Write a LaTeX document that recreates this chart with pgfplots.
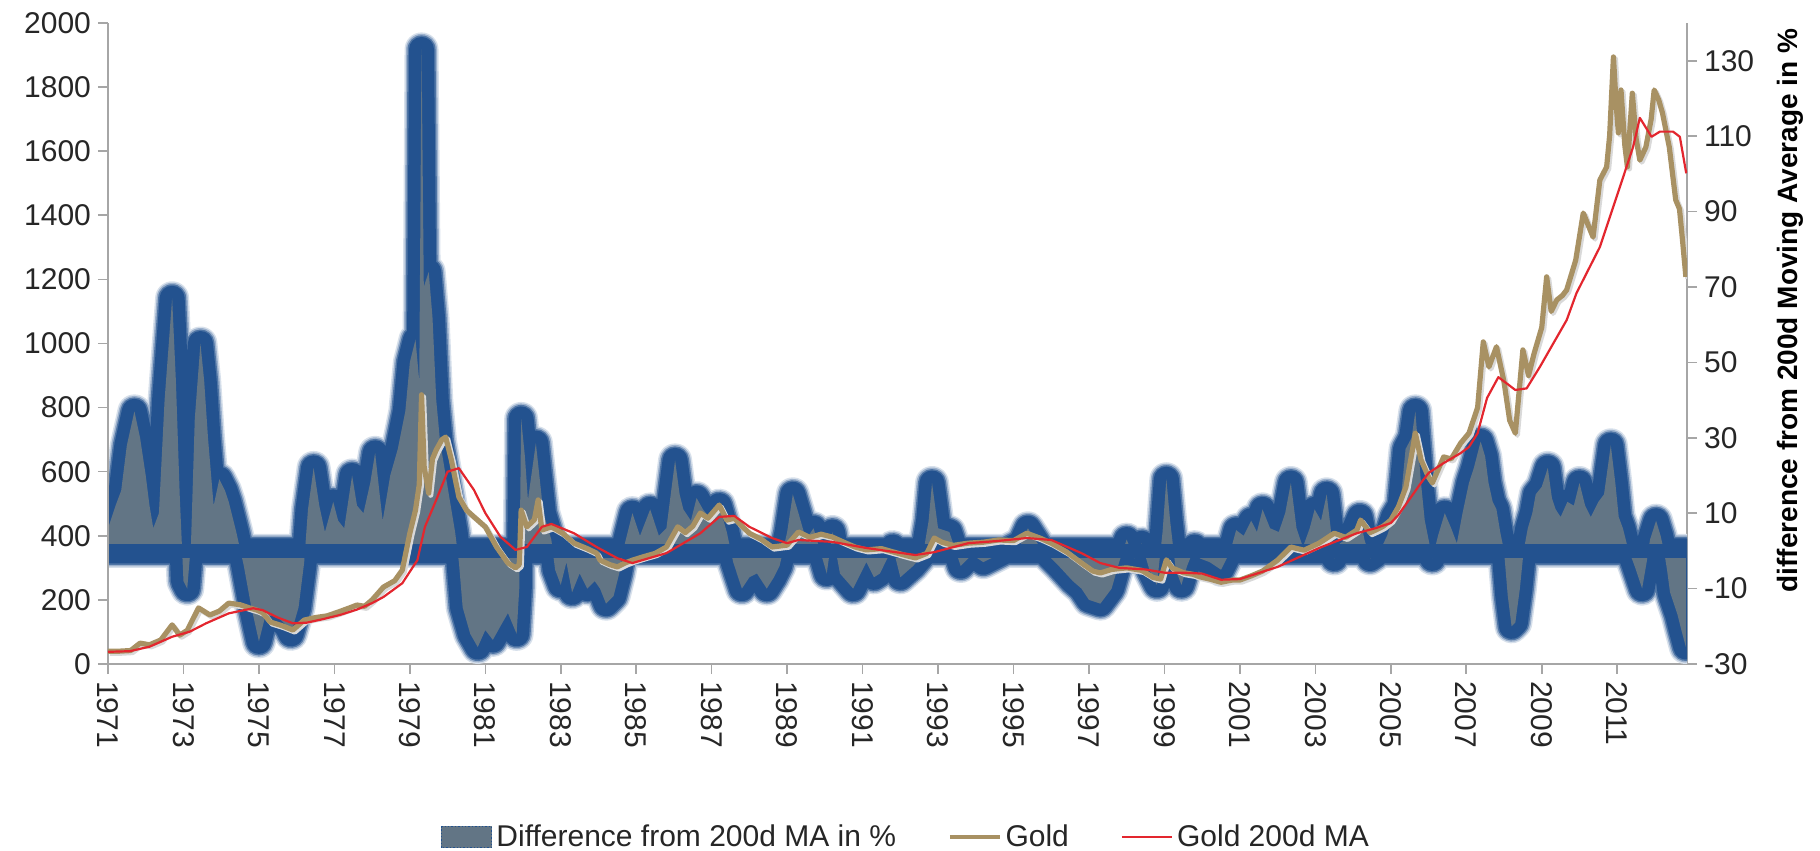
\documentclass[border=0pt]{standalone}
\usepackage{pgfplots}
\pgfplotsset{compat=1.18}
\usepackage{fontspec}
\setmainfont{Liberation Sans}
\definecolor{glowblue}{HTML}{23528F}
\definecolor{fillgray}{HTML}{627585}
\definecolor{goldc}{HTML}{A89163}
\definecolor{mared}{HTML}{E3262E}
\definecolor{axgray}{HTML}{A6A6A6}
\definecolor{txt}{HTML}{262626}

\begin{document}
\begin{tikzpicture}
\pgfplotsset{
  common/.style={
    scale only axis, width=789.5pt, height=320.5pt,
    xmin=1971, xmax=2012.85,
    axis line style={axgray, line width=0.8pt},
    tick style={axgray, line width=0.8pt},
    major tick length=5pt, tick align=outside,
    tick label style={font=\fontsize{15}{18}\selectfont, text=txt},
    /pgf/number format/assume math mode=true,
    /pgf/number format/1000 sep={},
  }
}
\begin{axis}[common, name=ax1,
  ymin=-30, ymax=140,
  axis y line*=right, axis x line*=bottom,
  ytick={-30,-10,10,30,50,70,90,110,130},
  xtick={1971,1973,...,2011},
  xticklabel style={rotate=-90, anchor=west},
]
\def\diffpts{(1971.0,6) (1971.2,12) (1971.35,16) (1971.5,28) (1971.7,37) (1971.85,30) (1972.0,20) (1972.1,12) (1972.2,6) (1972.35,10) (1972.5,40) (1972.7,67) (1972.8,45) (1972.9,15) (1973.0,-8) (1973.1,-10) (1973.2,2) (1973.3,35) (1973.45,55) (1973.55,45) (1973.65,30) (1973.8,12) (1973.95,19) (1974.1,16) (1974.2,13) (1974.4,5) (1974.6,-4) (1974.8,-15) (1975.0,-24) (1975.15,-18) (1975.35,-17) (1975.55,-18) (1975.75,-20) (1975.85,-22) (1976.05,-15) (1976.2,-3) (1976.3,11) (1976.45,22) (1976.6,12) (1976.75,5) (1976.97,13) (1977.1,8) (1977.26,6) (1977.47,20) (1977.6,12) (1977.77,10) (1977.95,18) (1978.08,26) (1978.2,15) (1978.28,8) (1978.48,20) (1978.68,27) (1978.88,37) (1979.0,50) (1979.15,56) (1979.25,45) (1979.31,133) (1979.37,70) (1979.5,74) (1979.6,62) (1979.7,40) (1979.8,29) (1980.0,17) (1980.2,5) (1980.3,-3) (1980.4,-15) (1980.6,-22) (1980.8,-25.5) (1981.0,-21) (1981.2,-23.6) (1981.4,-20) (1981.6,-16.5) (1981.83,-22) (1981.9,-10) (1981.95,35) (1982.05,25) (1982.13,13.5) (1982.34,28.6) (1982.54,10) (1982.75,3) (1982.85,-5) (1983.0,-9) (1983.15,-3) (1983.3,-11) (1983.5,-6) (1983.7,-10) (1983.9,-8) (1984.04,-10) (1984.2,-14) (1984.4,-12) (1984.55,-6) (1984.7,2) (1984.9,10) (1985.1,4) (1985.37,11) (1985.6,4) (1985.8,6) (1986.03,24) (1986.15,15) (1986.25,11) (1986.45,8) (1986.6,14) (1986.77,11) (1987.0,8) (1987.2,12) (1987.4,5) (1987.57,-3) (1987.8,-10) (1988.0,-7) (1988.2,-6) (1988.46,-10) (1988.65,-7) (1988.8,-4) (1989.0,5) (1989.15,15) (1989.3,10) (1989.5,3) (1989.7,6) (1990.05,-6) (1990.2,5) (1990.4,-6) (1990.75,-10) (1991.1,-3) (1991.3,-7) (1991.46,-6) (1991.8,1) (1992.0,-7) (1992.34,-4) (1992.6,-1) (1992.75,8) (1992.84,18) (1993.0,6) (1993.3,5) (1993.6,-4) (1993.9,-1) (1994.2,-3) (1994.6,-1) (1995.0,1) (1995.2,2) (1995.38,6) (1995.7,1) (1996.0,-2) (1996.2,-4) (1996.57,-8) (1996.8,-10) (1997.0,-13) (1997.3,-14) (1997.6,-10) (1997.8,-3) (1998.0,3) (1998.2,-2) (1998.4,2) (1998.6,-5) (1998.8,-9) (1998.95,5) (1999.05,19) (1999.15,8) (1999.3,-5) (1999.45,-9) (1999.6,-4) (1999.8,1) (1999.94,-2) (2000.2,-3) (2000.5,-5) (2000.75,0) (2000.9,5.5) (2001.1,4) (2001.3,8) (2001.45,5) (2001.6,11) (2001.8,6) (2002.03,5) (2002.2,10) (2002.35,18) (2002.5,6) (2002.67,1) (2002.85,6) (2002.98,11) (2003.15,8) (2003.3,15) (2003.5,-2) (2003.65,2) (2003.8,3) (2004.0,5) (2004.18,9) (2004.3,3) (2004.45,-2) (2004.6,-1) (2004.76,1) (2004.9,4) (2005.07,9) (2005.25,12) (2005.39,27) (2005.55,30) (2005.65,37) (2005.72,28) (2005.8,18) (2005.9,8) (2006.0,3) (2006.1,-2) (2006.25,4) (2006.43,10) (2006.6,6) (2006.75,2) (2006.9,10) (2007.07,18) (2007.2,22) (2007.38,29) (2007.5,25) (2007.59,18) (2007.7,13) (2007.8,11) (2007.9,5) (2008.0,0) (2008.1,-12) (2008.2,-20) (2008.3,-19) (2008.42,-10) (2008.52,0) (2008.63,6) (2008.75,10) (2008.84,15) (2009.0,17) (2009.16,22) (2009.27,14) (2009.37,11) (2009.5,9) (2009.68,13) (2009.85,12) (2010.0,18) (2010.15,12) (2010.3,9) (2010.5,13) (2010.65,15) (2010.83,28) (2010.95,18) (2011.04,9) (2011.15,6) (2011.25,2) (2011.35,-1) (2011.46,-4) (2011.66,-10) (2011.78,-3) (2011.87,3) (2012.03,8) (2012.15,4) (2012.24,0) (2012.32,-5) (2012.4,-11) (2012.5,-14) (2012.6,-17) (2012.7,-21) (2012.82,-25.5)}
\addplot[draw=glowblue!18!white, line width=17pt, line join=round, line cap=round, fill=glowblue!18!white] coordinates {\diffpts} \closedcycle;
\addplot[draw=glowblue!45!white, line width=15.5pt, line join=round, line cap=round, fill=glowblue!45!white] coordinates {\diffpts} \closedcycle;
\addplot[draw=glowblue!80!white, line width=14pt, line join=round, line cap=round, fill=glowblue!80!white] coordinates {\diffpts} \closedcycle;
\addplot[draw=glowblue, line width=12.5pt, line join=round, line cap=round, fill=glowblue] coordinates {\diffpts} \closedcycle;
\addplot[draw=none, fill=fillgray] coordinates {\diffpts} \closedcycle;
\addplot[glowblue, line width=7pt] coordinates {(1971,0) (2012.85,0)};
\end{axis}

\begin{axis}[common, name=ax2,
  ymin=0, ymax=2000,
  axis y line*=left, axis x line=none,
  ytick={0,200,...,2000},
  legend style={at={(0.506,-0.27)}, anchor=center, draw=none, fill=none,
    legend columns=3, font=\fontsize{15}{18}\selectfont, text=txt,
    /tikz/every even column/.append style={column sep=24pt}},
  legend image code/.code={\draw[#1] (0pt,0pt) -- (25pt,0pt);},
]
\addlegendimage{legend image code/.code={\fill[fillgray] (0pt,-5.25pt) rectangle (25pt,5.25pt); \draw[glowblue, densely dotted, line width=0.7pt] (0pt,-5.25pt) rectangle (25pt,5.25pt);}}
\addlegendentry{Difference from 200d MA in \%}
\def\goldpts{(1971.0,40) (1971.3,40) (1971.6,42) (1971.85,65) (1972.1,60) (1972.4,75) (1972.7,122) (1972.9,90) (1973.1,105) (1973.4,175) (1973.7,153) (1973.95,165) (1974.2,190) (1974.5,185) (1974.75,175) (1974.95,168) (1975.1,160) (1975.3,131) (1975.6,120) (1975.9,106) (1976.2,137) (1976.5,145) (1976.8,150) (1977.1,162) (1977.4,175) (1977.6,184) (1977.8,180) (1978.0,200) (1978.3,240) (1978.6,260) (1978.8,293) (1979.0,408) (1979.15,480) (1979.25,560) (1979.31,840) (1979.38,615) (1979.5,533) (1979.6,640) (1979.7,668) (1979.85,700) (1979.95,708) (1980.1,637) (1980.3,521) (1980.5,480) (1980.7,459) (1981.0,428) (1981.3,365) (1981.6,315) (1981.8,300) (1981.9,310) (1981.95,480) (1982.1,428) (1982.3,450) (1982.4,512) (1982.5,418) (1982.75,428) (1983.05,408) (1983.35,377) (1983.7,360) (1983.95,346) (1984.04,324) (1984.3,310) (1984.5,303) (1984.7,315) (1984.9,324) (1985.2,335) (1985.5,345) (1985.8,365) (1986.1,428) (1986.3,410) (1986.5,430) (1986.7,471) (1986.9,455) (1987.2,496) (1987.4,449) (1987.6,455) (1987.8,430) (1988.0,408) (1988.3,390) (1988.6,365) (1989.0,371) (1989.3,412) (1989.6,395) (1989.9,405) (1990.2,396) (1990.5,380) (1990.8,365) (1991.1,356) (1991.5,360) (1991.8,350) (1992.1,340) (1992.4,331) (1992.7,345) (1992.9,393) (1993.1,380) (1993.4,370) (1993.8,377) (1994.2,380) (1994.6,387) (1995.0,385) (1995.35,408) (1995.7,393) (1996.0,377) (1996.4,350) (1996.8,315) (1997.1,290) (1997.3,284) (1997.6,295) (1998.0,300) (1998.4,292) (1998.7,270) (1998.9,265) (1999.05,325) (1999.2,300) (1999.5,285) (1999.75,280) (1999.94,272) (2000.2,265) (2000.5,255) (2000.8,262) (2001.0,262) (2001.3,275) (2001.6,290) (2002.0,324) (2002.35,365) (2002.7,355) (2003.1,377) (2003.5,408) (2003.8,395) (2004.1,418) (2004.2,449) (2004.45,410) (2004.6,418) (2004.8,430) (2005.0,449) (2005.2,490) (2005.4,552) (2005.65,720) (2005.8,637) (2006.0,583) (2006.1,565) (2006.4,646) (2006.6,640) (2006.85,689) (2007.07,720) (2007.3,800) (2007.45,1005) (2007.6,927) (2007.8,990) (2008.0,880) (2008.15,760) (2008.3,720) (2008.4,850) (2008.5,980) (2008.65,900) (2008.8,970) (2009.0,1050) (2009.13,1208) (2009.25,1100) (2009.4,1136) (2009.55,1150) (2009.66,1167) (2009.9,1260) (2010.1,1407) (2010.36,1332) (2010.54,1510) (2010.72,1551) (2010.8,1650) (2010.9,1894) (2010.97,1750) (2011.03,1657) (2011.1,1791) (2011.2,1620) (2011.27,1551) (2011.4,1781) (2011.5,1640) (2011.6,1572) (2011.76,1613) (2011.9,1700) (2011.98,1791) (2012.1,1760) (2012.2,1719) (2012.38,1613) (2012.55,1448) (2012.65,1420) (2012.73,1323) (2012.82,1208)}
\addplot[black!15, line width=2.6pt, line join=round, xshift=1pt, yshift=-1pt, forget plot] coordinates {\goldpts};
\addplot[goldc, line width=2.6pt, line join=round, legend image code/.code={\draw[goldc, line width=1.7pt] (0pt,0pt) -- (25pt,0pt);}] coordinates {\goldpts};
\addlegendentry{Gold}
\addplot[mared, line width=1.1pt, line join=round] coordinates {
(1971.0,38) (1971.58,40) (1972.1,54) (1972.7,85) (1973.17,101) (1973.6,127) (1974.2,158) (1974.85,174) (1975.1,168) (1975.5,145) (1975.9,127) (1976.27,129) (1976.7,140) (1977.15,153) (1977.6,170) (1978.0,190) (1978.3,209) (1978.8,252) (1979.2,324) (1979.4,428) (1979.7,512) (1980.0,600) (1980.3,611) (1980.7,543) (1981.0,471) (1981.4,397) (1981.8,356) (1982.1,365) (1982.5,428) (1982.75,437) (1983.35,408) (1983.95,365) (1984.5,330) (1984.9,315) (1985.8,346) (1986.7,408) (1987.2,459) (1987.6,462) (1988.0,428) (1988.6,393) (1989.0,377) (1989.3,387) (1990.2,381) (1991.1,362) (1992.4,340) (1992.9,349) (1993.8,377) (1994.6,384) (1995.35,393) (1996.0,387) (1996.8,346) (1997.3,315) (1997.8,300) (1998.5,295) (1999.0,285) (1999.5,285) (2000.0,282) (2000.5,263) (2001.0,265) (2002.0,303) (2003.1,362) (2004.1,408) (2004.6,424) (2005.0,440) (2005.2,465) (2005.8,565) (2006.0,596) (2006.4,627) (2006.85,658) (2007.07,677) (2007.3,720) (2007.55,830) (2007.85,895) (2008.3,855) (2008.6,860) (2008.95,927) (2009.66,1073) (2009.92,1157) (2010.54,1301) (2011.07,1488) (2011.42,1613) (2011.6,1704) (2011.91,1645) (2012.13,1661) (2012.48,1661) (2012.66,1645) (2012.83,1531)};
\addlegendentry{Gold 200d MA}
\end{axis}
\path (ax1.east) ++(51.5pt,16.5pt) node[rotate=90, anchor=center, font=\bfseries\fontsize{14}{17}\selectfont, text=black] {difference from 200d Moving Average in \%};
\pgfresetboundingbox
\path (ax1.south west) ++(-54pt,-93.5pt) rectangle ++(910pt,425.5pt);
\end{tikzpicture}
\end{document}
